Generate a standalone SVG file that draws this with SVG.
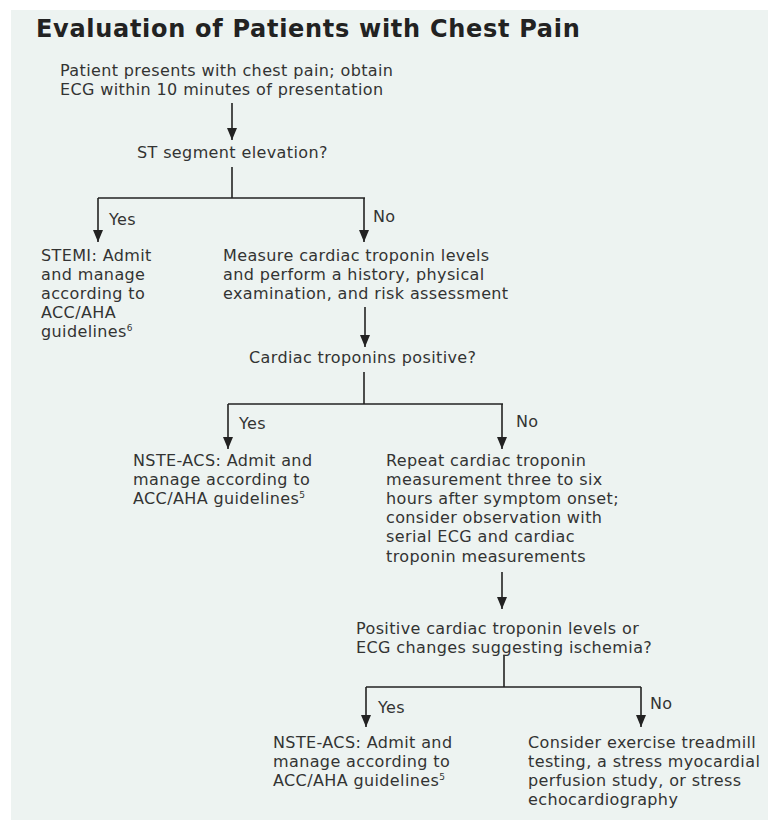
<svg xmlns="http://www.w3.org/2000/svg" width="768" height="820" viewBox="0 0 768 820">
<defs>
<style>
.t{font-family:"DejaVu Sans","Open Sans",sans-serif;font-size:16px;letter-spacing:0.38px;fill:#333}
.h{font-family:"DejaVu Sans","Open Sans",sans-serif;font-size:24px;letter-spacing:0.7px;font-weight:bold;fill:#222}
.sup{font-size:9px;letter-spacing:0}
.c{stroke:#222;stroke-width:1.6;fill:none}
</style>
<marker id="ah" viewBox="0 0 12 10" refX="12" refY="5" markerWidth="12" markerHeight="10" markerUnits="userSpaceOnUse" orient="auto">
<path d="M0,0 L12,5 L0,10 z" fill="#222"/>
</marker>
</defs>
<rect x="0" y="0" width="768" height="820" fill="#ffffff"/>
<rect x="11" y="10" width="757" height="810" fill="#edf3f1"/>
<text class="h" x="36" y="37">Evaluation of Patients with Chest Pain</text>
<g id="connectors">
<path class="c" d="M232,103 V140" marker-end="url(#ah)"/>
<path class="c" d="M232,167 V198"/>
<path class="c" d="M98,198 H365"/>
<path class="c" d="M98,198 V242" marker-end="url(#ah)"/>
<path class="c" d="M364,198 V242" marker-end="url(#ah)"/>
<path class="c" d="M365,307 V347" marker-end="url(#ah)"/>
<path class="c" d="M364,372 V404"/>
<path class="c" d="M228,404 H503"/>
<path class="c" d="M228,404 V449" marker-end="url(#ah)"/>
<path class="c" d="M502,404 V449" marker-end="url(#ah)"/>
<path class="c" d="M502,572 V609" marker-end="url(#ah)"/>
<path class="c" d="M504,655 V687"/>
<path class="c" d="M366,687 H641"/>
<path class="c" d="M366,687 V727" marker-end="url(#ah)"/>
<path class="c" d="M641,687 V727" marker-end="url(#ah)"/>
<text class="t" x="109" y="225">Yes</text>
<text class="t" x="373" y="222">No</text>
<text class="t" x="239" y="429">Yes</text>
<text class="t" x="516" y="427">No</text>
<text class="t" x="378" y="713">Yes</text>
<text class="t" x="650" y="709">No</text>
</g>
<g id="start">
<text class="t" x="60" y="76">Patient presents with chest pain; obtain</text>
<text class="t" x="60" y="95">ECG within 10 minutes of presentation</text>
</g>
<g id="st-elevation">
<text class="t" x="137" y="158">ST segment elevation?</text>
</g>
<g id="stemi">
<text class="t" x="41" y="261">STEMI: Admit</text>
<text class="t" x="41" y="280">and manage</text>
<text class="t" x="41" y="299">according to</text>
<text class="t" x="41" y="318">ACC/AHA</text>
<text class="t" x="41" y="337">guidelines<tspan class="sup" dy="-6">6</tspan></text>
</g>
<g id="measure">
<text class="t" x="223" y="261">Measure cardiac troponin levels</text>
<text class="t" x="223" y="280">and perform a history, physical</text>
<text class="t" x="223" y="299">examination, and risk assessment</text>
</g>
<g id="troponins-positive">
<text class="t" x="249" y="363">Cardiac troponins positive?</text>
</g>
<g id="nste1">
<text class="t" x="133" y="466">NSTE-ACS: Admit and</text>
<text class="t" x="133" y="485">manage according to</text>
<text class="t" x="133" y="504">ACC/AHA guidelines<tspan class="sup" dy="-6">5</tspan></text>
</g>
<g id="repeat">
<text class="t" x="386" y="466">Repeat cardiac troponin</text>
<text class="t" x="386" y="485">measurement three to six</text>
<text class="t" x="386" y="504">hours after symptom onset;</text>
<text class="t" x="386" y="523">consider observation with</text>
<text class="t" x="386" y="542">serial ECG and cardiac</text>
<text class="t" x="386" y="562">troponin measurements</text>
</g>
<g id="positive-or-ecg">
<text class="t" x="356" y="634">Positive cardiac troponin levels or</text>
<text class="t" x="356" y="653">ECG changes suggesting ischemia?</text>
</g>
<g id="nste2">
<text class="t" x="273" y="748">NSTE-ACS: Admit and</text>
<text class="t" x="273" y="767">manage according to</text>
<text class="t" x="273" y="786">ACC/AHA guidelines<tspan class="sup" dy="-6">5</tspan></text>
</g>
<g id="consider">
<text class="t" x="528" y="748">Consider exercise treadmill</text>
<text class="t" x="528" y="767">testing, a stress myocardial</text>
<text class="t" x="528" y="786">perfusion study, or stress</text>
<text class="t" x="528" y="805">echocardiography</text>
</g>
</svg>
